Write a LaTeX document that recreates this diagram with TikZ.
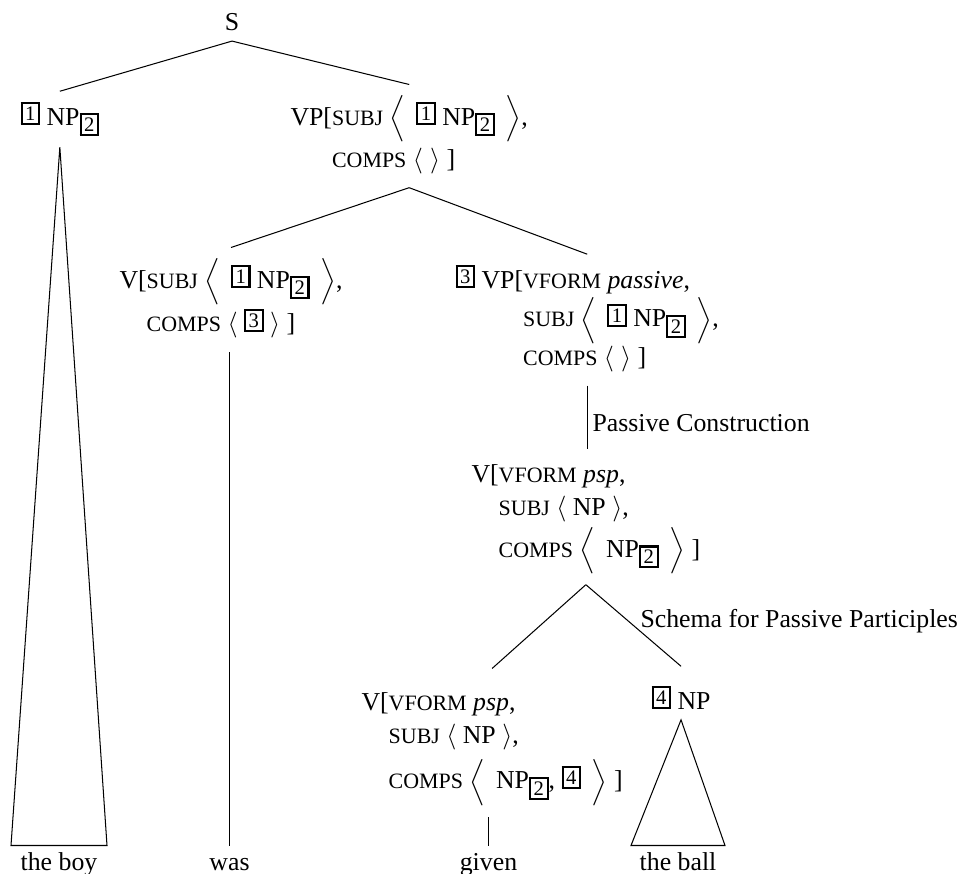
\documentclass[tikz,border=0pt]{standalone}
\usepackage{fontspec}
\setmainfont{Liberation Serif}
\usetikzlibrary{calc}

\newcommand*{\tagbox}[1]{{\setlength{\fboxsep}{1pt}\setlength{\fboxrule}{0.8pt}\raisebox{1.8pt}{\fbox{\footnotesize #1}}}}
\newcommand*{\subtag}[1]{\raisebox{-4.4pt}{\tagbox{#1}}}
\newcommand*{\feat}[1]{{\fontsize{8.5}{9}\selectfont #1}}

\begin{document}
\begin{tikzpicture}
[
	x=0.3876pt,
	y=-0.3876pt,
	cat/.style={inner xsep=0pt,inner ysep=4pt,anchor=base west},
	word/.style={inner xsep=0pt,inner ysep=2.5pt,text height=6.8pt,text depth=2pt,anchor=base},
	rule/.style={inner sep=0pt,anchor=base west}
]

	\useasboundingbox (0,0) rectangle (960,874);

	% categories
	\node[cat,anchor=base] (s) at (232,30) {S};
	\node[cat] (np1) at (20,125) {\tagbox{1} NP\subtag{2}};
	\node[cat] (vp) at (290,125) {\begin{tabular}[t]{@{}l@{}l@{}}
		VP[ & \feat{SUBJ} $\Big\langle$\, \tagbox{1} NP\subtag{2}\, $\Big\rangle$,\\[4.5pt]
		    & \feat{COMPS} $\langle\;\rangle$ ]
		\end{tabular}};
	\node[cat] (vsubj) at (119,288) {\begin{tabular}[t]{@{}l@{}l@{}}
		V[ & \feat{SUBJ} $\Big\langle$\, \tagbox{1} NP\subtag{2}\, $\Big\rangle$,\\[4.5pt]
		   & \feat{COMPS} $\langle$ \tagbox{3} $\rangle$ ]
		\end{tabular}};
	\node[cat] (vppas) at (455,288) {\begin{tabular}[t]{@{}l@{}l@{}}
		\tagbox{3} VP[ & \feat{VFORM} \textit{passive},\\
		               & \feat{SUBJ} $\Big\langle$\, \tagbox{1} NP\subtag{2}\, $\Big\rangle$,\\
		               & \feat{COMPS} $\langle\;\rangle$ ]
		\end{tabular}};
	\node[cat] (vpsp) at (471,482) {\begin{tabular}[t]{@{}l@{}l@{}}
		V[ & \feat{VFORM} \textit{psp},\\[1pt]
		   & \feat{SUBJ} $\langle$ NP $\rangle$,\\[1pt]
		   & \feat{COMPS} $\Big\langle$\, NP\subtag{2}\, $\Big\rangle$ ]
		\end{tabular}};
	\node[cat] (vlow) at (361,710) {\begin{tabular}[t]{@{}l@{}l@{}}
		V[ & \feat{VFORM} \textit{psp},\\[1pt]
		   & \feat{SUBJ} $\langle$ NP $\rangle$,\\[2.5pt]
		   & \feat{COMPS} $\Big\langle$\, NP\subtag{2}, \tagbox{4}\, $\Big\rangle$ ]
		\end{tabular}};
	\node[cat] (np4) at (651,709) {\tagbox{4} NP};

	% words
	\node[word] (boy) at (59,870) {the boy};
	\node[word] (was) at (229.5,870) {was};
	\node[word] (given) at (488.5,870) {given};
	\node[word] (ball) at (678,870) {the ball};

	% rule names
	\node[rule] (passrule) at (592,431) {Passive Construction};
	\node[rule] (schemarule) at (640,627) {Schema for Passive Participles};

	% branches
	\draw (s.south) -- (np1.north);
	\draw (s.south) -- (vp.north);
	\draw (vp.south) -- (vsubj.north);
	\draw (vp.south) -- (vppas.north);
	\draw (vppas.south) -- (vppas.south |- vpsp.north);
	\draw (vpsp.south) -- ([yshift=3.5pt]vlow.north);
	\draw (vpsp.south) -- ([yshift=3.5pt]np4.north);
	\draw (was.north) -- (was.north |- vsubj.south);
	\draw (given.north) -- (given.north |- vlow.south);

	% triangles
	\draw (np1.south) -- ($(boy.north)+(-48,0)$) -- ($(boy.north)+(48,0)$) -- cycle;
	\draw (np4.south) -- ($(ball.north)+(-47,0)$) -- ($(ball.north)+(47,0)$) -- cycle;

\end{tikzpicture}
\end{document}
